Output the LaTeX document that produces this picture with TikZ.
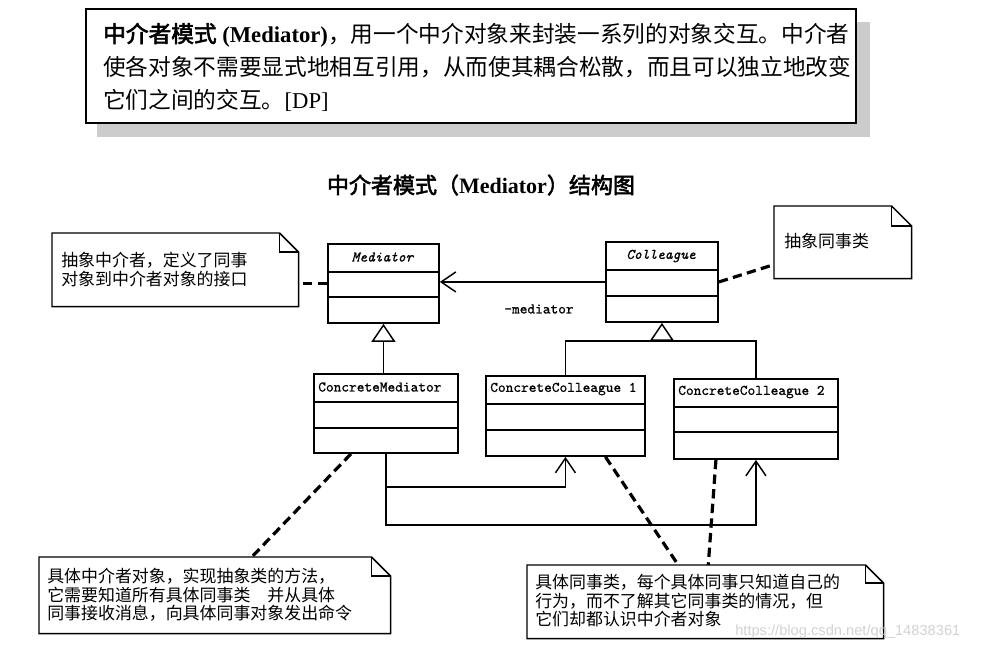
\documentclass[tikz,border=0pt]{standalone}
\usepackage{fontspec}
\newfontfamily\cjk{Noto Sans CJK SC}[AutoFakeBold=2.5]
\newfontfamily\latser{Liberation Serif}
\newfontfamily\wmfont{Liberation Sans}
\newfontfamily\umlmono{Latin Modern Mono}[FakeBold=0.9]
\usetikzlibrary{arrows.meta,calc}

\newcommand\umlclass[7]{%
  \node[clsbox, minimum width={(#4-#2)*0.75pt}, minimum height={(#5-#3)*0.75pt}, anchor=north west] (#1) at (#2,#3) {};
  \draw[line width=1.4pt] (#2,#6) -- (#4,#6) (#2,#7) -- (#4,#7);}

\newcommand\umlnote[6]{%
  \node[inner sep=0pt, minimum width={(#4-#2)*0.75pt}, minimum height={(#5-#3)*0.75pt}, anchor=north west] (#1) at (#2,#3) {};
  \draw[line width=1.1pt, fill=white] (#1.south west) -- (#1.north west) -- ($(#1.north east)+(-#6,0)$) -- ($(#1.north east)+(0,#6)$) -- (#1.south east) -- cycle;
  \draw[line width=1.1pt] ($(#1.north east)+(-#6,0)$) |- ($(#1.north east)+(0,#6)$);}

\begin{document}
\begin{tikzpicture}[x=0.75pt,y=-0.75pt,
  clsbox/.style={draw, line width=1.4pt, inner sep=0pt},
  cname/.style={font=\umlmono\fontsize{11}{13}\selectfont, inner sep=0pt},
  cnamei/.style={font=\umlmono\itshape\fontsize{11}{13}\selectfont, inner sep=0pt},
  ntext/.style={font=\cjk\fontsize{12.7}{13.8}\selectfont, align=left, inner sep=0pt, anchor=north west},
  introtext/.style={font=\cjk\fontsize{17}{20}\selectfont, inner sep=0pt, anchor=west},
  dashl/.style={line width=2.4pt, dash pattern=on 7pt off 4pt},
  assoc/.style={line width=1.1pt, -{Straight Barb[length=11pt,width=15pt]}},
  gen/.style={line width=1.1pt, -{Triangle[open,length=13.5pt,width=18pt,fill=white]}}]
\useasboundingbox (0,0) rectangle (984,651);

% intro box with shadow
\fill[gray!40] (97,122) rectangle (870,137);
\fill[gray!40] (855,22) rectangle (870,137);
\node[draw, line width=1.5pt, fill=white, inner sep=0pt, anchor=north west,
  minimum width={(855-85)*0.75pt}, minimum height={(122-8)*0.75pt}] (intro) at (85,8) {};
\node[introtext] (l1) at (103,35) {{\bfseries 中介者模式{\latser\ (Mediator)}}，用一个中介对象来封装一系列的对象交互。中介者};
\node[introtext] (l2) at (103,67) {使各对象不需要显式地相互引用，从而使其耦合松散，而且可以独立地改变};
\node[introtext] (l3) at (103,100) {它们之间的交互。{\latser [DP]}};

% title
\node[font=\cjk\bfseries\fontsize{16.5}{19}\selectfont, inner sep=0pt] (title) at (481,185) {中介者模式（{\latser\bfseries Mediator}）结构图};

% classes
\umlclass{med}{327}{243}{438}{322}{272}{297}
\node[cnamei] (medn) at (382.5,257) {Mediator};
\umlclass{coll}{605}{241}{717}{321}{270}{296}
\node[cnamei] (colln) at (661,256) {Colleague};
\umlclass{cm}{313}{373}{457}{452}{402}{428}
\node[cname, anchor=west] (cmn) at (318,387) {ConcreteMediator};
\umlclass{cc1}{485}{375}{644}{455}{404}{430}
\node[cname, anchor=west] (cc1n) at (490,389) {ConcreteColleague 1};
\umlclass{cc2}{673}{378}{837}{458}{407}{432}
\node[cname, anchor=west] (cc2n) at (678,392) {ConcreteColleague 2};

% notes
\umlnote{n1}{52}{233}{298}{306}{19}
\node[ntext] (n1t) at (61,252) {抽象中介者，定义了同事\\对象到中介者对象的接口};
\umlnote{ncoll}{774}{206}{911}{278}{20}
\node[ntext] (ncollt) at (784,233) {抽象同事类};
\umlnote{n2}{39}{557}{390}{633}{19}
\node[ntext] (n2t) at (47,568) {具体中介者对象，实现抽象类的方法，\\它需要知道所有具体同事类　并从具体\\同事接收消息，向具体同事对象发出命令};
\umlnote{n3}{527}{565}{883}{638}{18}
\node[ntext] (n3t) at (535,574) {具体同事类，每个具体同事只知道自己的\\行为，而不了解其它同事类的情况，但\\它们却都认识中介者对象};

% association
\draw[assoc] (coll.west) -- (med.east |- coll.west);
\node[cname] (mlabel) at (539,309) {-mediator};

% generalizations
\draw[gen] (med.south |- cm.north) -- (med.south);
\coordinate (gj) at (coll.south |- 0,341);
\draw[line width=1.1pt] (cc1.north) |- (gj) -| (cc2.north);
\draw[gen] (gj) -- (coll.south);

% concrete mediator to colleagues
\draw[assoc] (cm.south) -- ++(0,33) -| (cc1.south);
\draw[assoc] (cm.south) -- ++(0,71) -| (cc2.south);

% note links
\draw[dashl] (med.west) -- (n1.east |- med.west);
\draw[dashl] (coll.east) -- (ncoll.198);
\draw[dashl] ($(cm.south)+(-35,0)$) -- ($(n2.north)+(37,0)$);
\draw[dashl] ($(cc1.south)+(40,0)$) -- ($(n3.north)+(-27,0)$);
\draw[dashl] ($(cc2.south)+(-40,0)$) -- ($(n3.north)+(3,0)$);

% watermark
\node[font=\wmfont\fontsize{11}{13}\selectfont, text=gray!35, anchor=west, inner sep=0pt] (wm) at (735,632) {https://blog.csdn.net/qq\_14838361};
\end{tikzpicture}
\end{document}
